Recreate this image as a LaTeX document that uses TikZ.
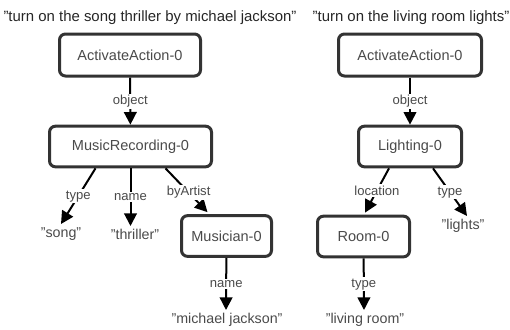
\documentclass[tikz,border=0pt]{standalone}
\usepackage{fontspec}
\setmainfont{Liberation Sans}
\usepackage{xcolor}
\usepackage{tikz}
\usetikzlibrary{positioning, arrows.meta, calc}

\definecolor{boxline}{HTML}{333333}
\definecolor{boxtext}{HTML}{4A4A4A}

\begin{document}
\begin{tikzpicture}[
    x=0.75pt, y=-0.75pt,
    title/.style={inner sep=0pt, text=black!85, font=\fontsize{11.2}{13}\selectfont},
    entity/.style={draw=boxline, line width=2.25pt, rounded corners=4.5pt, fill=white,
        text=boxtext, minimum height=30.5pt, inner sep=0pt, font=\fontsize{10.9}{13}\selectfont},
    value/.style={anchor=north, inner sep=2pt, text height=8pt, text depth=2pt,
        text=boxtext, font=\fontsize{10.7}{13}\selectfont},
    lbl/.style={fill=white, inner sep=1pt, text=boxtext, font=\fontsize{9.8}{11}\selectfont},
    rel/.style={draw=black, line width=1.5pt, -{Triangle[length=9.5pt, width=9.5pt]}}
]
\useasboundingbox (0,0) rectangle (510,329);

% first sentence
\node (t1) [title] at (150,18) {"turn on the song thriller by michael jackson"};
\node (act1) [entity, minimum width=105.75pt, minimum height=31.5pt] at (130,55) {ActivateAction-0};
\node (music) [entity, minimum width=121.5pt] at (130.5,146.5) {MusicRecording-0};
\node (musician) [entity, minimum width=67.5pt] at (226.5,236) {Musician-0};
\node (song) [value] at (61,224) {"song"};
\node (thriller) [value] at (135,226) {"thriller"};
\node (mj) [value] at (227,310) {"michael jackson"};

\draw [rel] (act1) -- node[lbl] {object} (music);
\draw [rel] ($(music.south)+(-35,0)$) -- node[lbl] {type} (song.north);
\draw [rel] (music.south) -- node[lbl] {name} (music.south |- thriller.north);
\draw [rel] ($(music.south)+(35,0)$) -- node[lbl, pos=0.55] {byArtist} ($(musician.north)+(-19,-2)$);
\draw [rel] (musician) -- node[lbl] {name} ($(mj.north)+(-1,0)$);

% second sentence
\node (t2) [title] at (411,18) {"turn on the living room lights"};
\node (act2) [entity, minimum width=107.25pt, minimum height=31.5pt] at (410,55) {ActivateAction-0};
\node (lighting) [entity, minimum width=77.25pt] at (410,146.5) {Lighting-0};
\node (room) [entity, minimum width=69pt] at (363.5,236.5) {Room-0};
\node (lights) [value] at (463,216) {"lights"};
\node (living) [value] at (365,310) {"living room"};

\draw [rel] (act2) -- node[lbl] {object} (lighting);
\draw [rel] ($(lighting.south)+(-21,0)$) -- node[lbl] {location} ($(room.north)+(1.5,-2)$);
\draw [rel] ($(lighting.south)+(23,0)$) -- node[lbl] {type} ($(lights.north)+(4,0)$);
\draw [rel] (room) -- node[lbl] {type} ($(living.north)+(-1,0)$);
\end{tikzpicture}
\end{document}
